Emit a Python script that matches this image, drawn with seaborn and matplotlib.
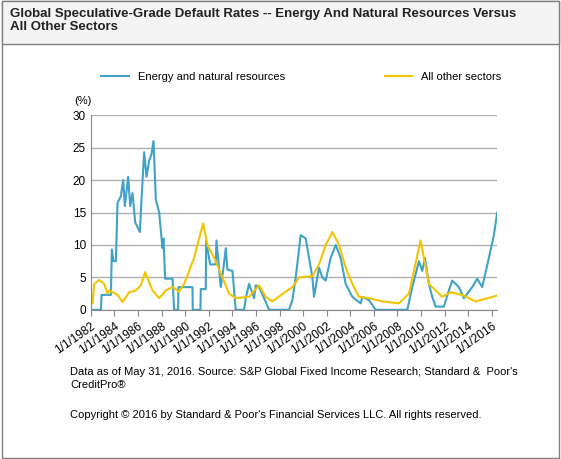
import numpy as np
import pandas as pd
import matplotlib
matplotlib.use('Agg')
import matplotlib.pyplot as plt
import seaborn as sns
from matplotlib.patches import Rectangle

# zoom-pixel x positions converted to decimal years below
energy_x = [95, 125, 127, 155, 158, 163, 170, 175, 185, 192, 197, 207, 213, 220, 228, 242, 247, 255, 262, 270, 277, 283,
            290, 300, 310, 313, 318, 340, 345, 357, 358, 400, 401, 424, 425, 440, 441, 453, 470, 472, 485, 492, 500, 505,
            520, 530, 535, 555, 560, 570, 585, 590, 600, 615, 630, 690, 700, 710, 725, 740, 760, 765, 780, 790, 800,
            815, 830, 845, 860, 880, 905, 910, 930, 950, 1045, 1060, 1080, 1090, 1098, 1110, 1120, 1130, 1155, 1170,
            1180, 1200, 1215, 1240, 1255, 1270, 1290, 1305, 1315]
energy = [0, 0, 2.3, 2.3, 9.3, 7.5, 7.5, 16.5, 17.5, 20, 16, 20.5, 16, 18, 13.5, 12, 17, 24.3, 20.5, 23, 24, 26,
          17, 15, 9.5, 11, 4.8, 4.8, 0, 0, 3.5, 3.5, 0, 0, 3.2, 3.2, 10.7, 7, 7, 10.7, 3.5, 6, 9.5, 6.2,
          6, 0, 0, 0, 1.8, 4, 1.8, 3.8, 3.5, 1.8, 0, 0, 1.5, 5, 11.5, 11, 5, 2, 6.5, 5, 4.5,
          8, 10, 8, 4, 2, 1, 2, 1.5, 0, 0, 3.5, 7.5, 6, 8, 4, 2, 0.5, 0.5, 3,
          4.5, 3.5, 1.8, 3.5, 4.8, 3.5, 8, 11.5, 15]

other_x = [95, 100, 105, 120, 135, 145, 150, 175, 190, 210, 230, 245, 258, 280, 300, 320, 340, 360, 375, 405, 432,
           445, 470, 490, 510, 530, 570, 600, 620, 640, 680, 700, 720, 760, 780, 800, 820, 840, 860, 880, 900, 930,
           970, 1020, 1050, 1065, 1085, 1095, 1110, 1150, 1175, 1210, 1250, 1280, 1315]
other = [1, 1, 4, 4.6, 4, 2.5, 3, 2.3, 1.2, 2.7, 3, 3.8, 5.8, 3, 1.8, 3, 3.5, 2.8, 4, 8, 13.3,
         10, 7.5, 5, 2.5, 1.8, 2.0, 3.8, 2.0, 1.3, 2.8, 3.5, 5, 5.2, 7, 10, 12, 10, 6.5, 4, 2, 1.8,
         1.3, 1.0, 2.5, 6, 10.7, 8, 4, 2, 2.7, 2.3, 1.3, 1.7, 2.2]

tick_years = list(range(1982, 2017, 2))
tick_labels = [f'1/1/{y}' for y in tick_years]

df_e = pd.DataFrame({'year': [1982 + (x - 95) / 35.4 for x in energy_x], 'rate': energy})
df_o = pd.DataFrame({'year': [1982 + (x - 95) / 35.4 for x in other_x], 'rate': other})

plt.rcParams['font.family'] = ['Arial', 'Liberation Sans', 'DejaVu Sans']
fig = plt.figure(figsize=(5.61, 4.59), dpi=100)
fig.patches.append(Rectangle((0.003, 0.003), 0.994, 0.994, transform=fig.transFigure,
                             fill=False, edgecolor='#7f7f7f', lw=1))
fig.patches.append(Rectangle((0.003, 0.905), 0.994, 0.092, transform=fig.transFigure,
                             facecolor='#f4f4f4', edgecolor='#7f7f7f', lw=1))
fig.text(0.018, 0.955, 'Global Speculative-Grade Default Rates -- Energy And Natural Resources Versus\nAll Other Sectors',
         fontsize=9.5, fontweight='bold', color='#222222', va='center', linespacing=1.1)

ax = fig.add_axes([0.162, 0.325, 0.724, 0.424])
sns.lineplot(data=df_e, x='year', y='rate', ax=ax, color='#3fa2c8', lw=1.5, label='Energy and natural resources')
sns.lineplot(data=df_o, x='year', y='rate', ax=ax, color='#f5c400', lw=1.5, label='All other sectors')
ax.set_ylim(0, 30)
ax.set_yticks(range(0, 31, 5))
ax.set_xlim(1982, 2016.45)
ax.set_xticks(tick_years)
ax.set_xticklabels(tick_labels, rotation=35, ha='right', fontsize=8.5, rotation_mode='anchor')
ax.tick_params(axis='y', labelsize=8.5, length=0)
ax.tick_params(axis='x', length=4, color='#888888')
ax.grid(axis='y', color='#b0b0b0', lw=1)
ax.set_axisbelow(True)
for s in ['top', 'right']:
    ax.spines[s].set_visible(False)
ax.spines['left'].set_color('#888888')
ax.spines['bottom'].set_color('#888888')
ax.set_xlabel('')
ax.set_ylabel('')
ax.text(-0.02, 1.06, '(%)', transform=ax.transAxes, fontsize=8, ha='center')
ax.legend(loc='lower left', bbox_to_anchor=(0.0, 1.12), ncol=2, frameon=False, fontsize=8,
          columnspacing=9, handlelength=2.5)

fig.text(0.125, 0.175, "Data as of May 31, 2016. Source: S&P Global Fixed Income Research; Standard &  Poor's\nCreditPro\u00ae",
         fontsize=8, va='center', linespacing=1.3)
fig.text(0.125, 0.095, "Copyright \u00a9 2016 by Standard & Poor's Financial Services LLC. All rights reserved.",
         fontsize=8, va='center')

fig.savefig('out.png', dpi=100)
